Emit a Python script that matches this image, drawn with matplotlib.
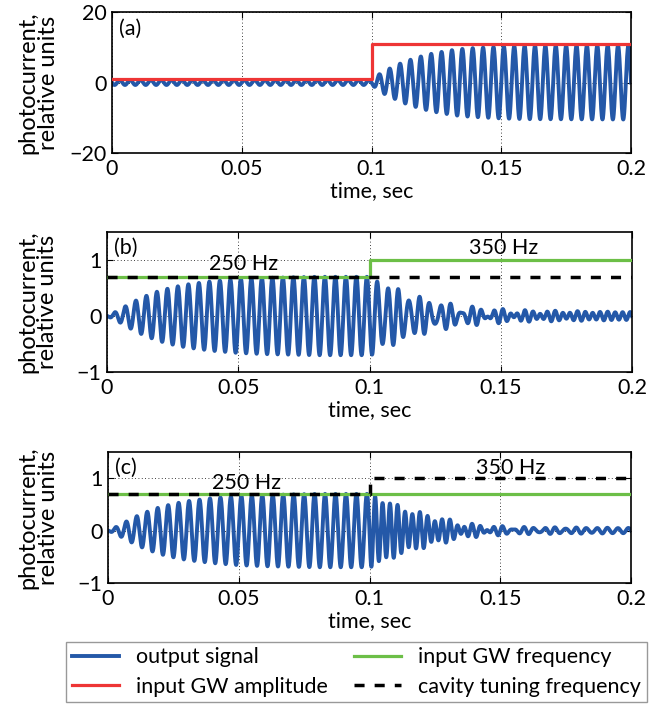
import matplotlib
matplotlib.use("Agg")
import matplotlib.pyplot as plt
import numpy as np

plt.rcParams["font.family"] = ["Lato", "DejaVu Sans"]
plt.rcParams["font.size"] = 15

# frequencies (Hz)
F_LOW = 250
F_HIGH = 350
T_SWITCH = 0.1

# x axis
X_TICKS = [0, 0.05, 0.1, 0.15, 0.2]
X_TICKLABELS = ["0", "0.05", "0.1", "0.15", "0.2"]

# panel (a): input GW amplitude and envelope of the output signal
AMP_T = [0.0, 0.1, 0.2]
AMP_VAL = [1.0, 10.8, 10.8]
ENV_A_T = [0.0, 0.1, 0.1005, 0.104, 0.108, 0.112, 0.116, 0.12, 0.124, 0.128,
           0.132, 0.136, 0.14, 0.15, 0.16, 0.2]
ENV_A = [0.7, 0.7, 0.9, 2.9, 4.3, 5.7, 6.7, 7.6, 8.3, 8.8,
         9.3, 9.6, 9.8, 10.2, 10.4, 10.5]

# build-up of the resonant response (panels b and c, before the switch)
BUILD_T = [0.0, 0.004, 0.008, 0.012, 0.016, 0.02, 0.025, 0.03, 0.04, 0.05,
           0.06, 0.07, 0.08, 0.09, 0.1]
BUILD = [0.0, 0.09, 0.2, 0.3, 0.38, 0.45, 0.51, 0.56, 0.62, 0.66,
         0.68, 0.69, 0.7, 0.7, 0.7]

# panel (b): free decay after the switch (at 250 Hz) and driven residual (350 Hz)
DECAY_B_T = [0.1, 0.104, 0.108, 0.112, 0.116, 0.12, 0.124, 0.128, 0.132,
             0.136, 0.14, 0.145, 0.15, 0.16, 0.2]
DECAY_B = [0.7, 0.6, 0.48, 0.4, 0.33, 0.27, 0.22, 0.18, 0.15,
           0.12, 0.1, 0.08, 0.06, 0.035, 0.0]
RESID_B_T = [0.1, 0.104, 0.2]
RESID_B = [0.0, 0.07, 0.07]

# panel (c): free decay after the switch (at 350 Hz) and driven residual (250 Hz)
DECAY_C_T = [0.1, 0.104, 0.108, 0.112, 0.116, 0.12, 0.124, 0.128, 0.132,
             0.136, 0.14, 0.15, 0.16, 0.2]
DECAY_C = [0.7, 0.6, 0.5, 0.42, 0.35, 0.3, 0.24, 0.2, 0.15,
           0.1, 0.08, 0.04, 0.02, 0.0]
RESID_C_T = [0.1, 0.104, 0.2]
RESID_C = [0.0, 0.05, 0.05]

# frequency traces (plotted in relative units)
GW_FREQ_B = [0.7, 1.0, 1.0]
CAV_FREQ_B = [0.7, 0.7, 0.7]
GW_FREQ_C = [0.7, 0.7, 0.7]
CAV_FREQ_C = [0.7, 1.0, 1.0]
STEP_T = [0.0, 0.1, 0.2]

BLUE = "#2458a8"
RED = "#ee3535"
GREEN = "#6cbf47"

t = np.linspace(0, 0.2, 8001)
after = t >= T_SWITCH
car_low = -np.sin(2 * np.pi * F_LOW * t)
car_high = -np.sin(2 * np.pi * F_HIGH * (t - T_SWITCH))

sig_a = np.interp(t, ENV_A_T, ENV_A) * car_low

env_low_b = np.where(after, np.interp(t, DECAY_B_T, DECAY_B), np.interp(t, BUILD_T, BUILD))
env_high_b = np.where(after, np.interp(t, RESID_B_T, RESID_B), 0.0)
sig_b = env_low_b * car_low + env_high_b * car_high

env_low_c = np.where(after, np.interp(t, RESID_C_T, RESID_C), np.interp(t, BUILD_T, BUILD))
env_high_c = np.where(after, np.interp(t, DECAY_C_T, DECAY_C), 0.0)
sig_c = env_low_c * car_low + env_high_c * car_high

fig = plt.figure(figsize=(6.65, 7.07), dpi=100)
ax_a = fig.add_axes([0.1684, 0.7836, 0.7805, 0.1994])
ax_b = fig.add_axes([0.1609, 0.4738, 0.7895, 0.1981])
ax_c = fig.add_axes([0.1624, 0.1754, 0.7865, 0.1853])

dash = (0, (2.9, 2.9))

ax_a.plot(t, sig_a, color=BLUE, lw=2.8, zorder=2)
ax_a.step(AMP_T, AMP_VAL, where="post", color=RED, lw=2.3, zorder=3)

ax_b.plot(t, sig_b, color=BLUE, lw=2.8, zorder=2)
ax_b.step(STEP_T, GW_FREQ_B, where="post", color=GREEN, lw=2.3, zorder=3)
ax_b.step(STEP_T, CAV_FREQ_B, where="post", color="black", lw=2.5, ls=dash, zorder=4)

ax_c.plot(t, sig_c, color=BLUE, lw=2.8, zorder=2)
ax_c.step(STEP_T, GW_FREQ_C, where="post", color=GREEN, lw=2.3, zorder=3)
ax_c.step(STEP_T, CAV_FREQ_C, where="post", color="black", lw=2.5, ls=dash, zorder=4)

for ax, lbl, ylim, yt, left_px in [(ax_a, "(a)", (-20, 20), [-20, 0, 20], 112),
                                   (ax_b, "(b)", (-1, 1.5), [-1, 0, 1], 107),
                                   (ax_c, "(c)", (-1, 1.5), [-1, 0, 1], 108)]:
    ax.set_xlim(0, 0.2)
    ax.set_ylim(*ylim)
    ax.set_xticks(X_TICKS)
    ax.set_xticklabels(X_TICKLABELS)
    ax.set_yticks(yt)
    ax.tick_params(direction="in", top=True, right=True, length=4, width=0.8, labelsize=15.5, pad=4)
    ax.grid(True, color="black", ls=(0, (1, 3)), lw=0.6)
    ax.set_axisbelow(True)
    for s in ax.spines.values():
        s.set_linewidth(1.2)
    ax.set_xlabel("time, sec", fontsize=15.5, labelpad=2)
    ax.set_ylabel("photocurrent,\nrelative units", fontsize=17, linespacing=0.95)
    ax.yaxis.label.set_va("center")
    ax.yaxis.set_label_coords((38 - left_px) / (631 - left_px), 0.5)
    ax.text(0.014, 0.955, lbl, transform=ax.transAxes, ha="left", va="top", fontsize=15.5)

ax_b.text(0.052, 0.93, "250 Hz", ha="center", va="center", fontsize=15.5)
ax_b.text(0.151, 1.22, "350 Hz", ha="center", va="center", fontsize=15.5)
ax_c.text(0.053, 0.91, "250 Hz", ha="center", va="center", fontsize=15.5)
ax_c.text(0.154, 1.2, "350 Hz", ha="center", va="center", fontsize=15.5)

handles = [
    plt.Line2D([], [], color=BLUE, lw=2.8),
    plt.Line2D([], [], color=RED, lw=2.3),
    plt.Line2D([], [], color=GREEN, lw=2.3),
    plt.Line2D([], [], color="black", lw=2.5, ls=dash),
]
labels = ["output signal", "input GW amplitude", "input GW frequency", "cavity tuning frequency"]
leg = fig.legend(handles, labels, ncol=2, loc="center", bbox_to_anchor=(0.536, 0.0495),
                 frameon=True, fancybox=False, edgecolor="#808080", fontsize=15.5,
                 handlelength=2.2, handletextpad=0.8, columnspacing=1.2,
                 labelspacing=0.45, borderpad=0.25)
leg.get_frame().set_linewidth(1.0)

fig.savefig("out.png", dpi=100)
